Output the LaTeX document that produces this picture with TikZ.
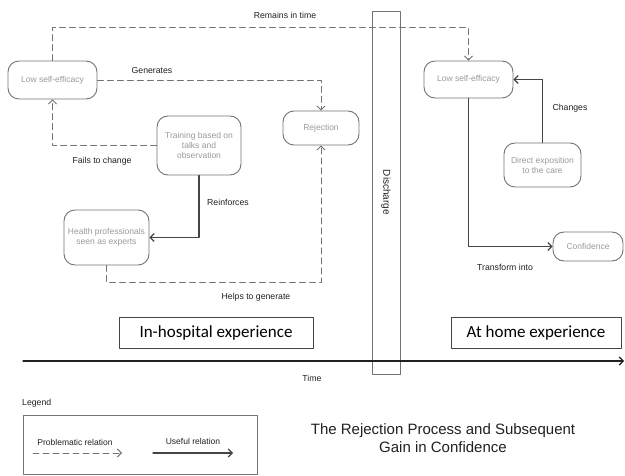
\documentclass[tikz,border=0pt]{standalone}
\usepackage{fontspec}
\setmainfont{Liberation Sans}
\newfontfamily\carlito{Carlito}
\usetikzlibrary{arrows.meta}
\definecolor{zzzzzz}{rgb}{0.6,0.6,0.6}
\definecolor{wwwwww}{rgb}{0.45,0.45,0.45}
\definecolor{uuuuuu}{rgb}{0.27,0.27,0.27}
\definecolor{sqsqsq}{rgb}{0.13,0.13,0.13}
\tikzset{
  state/.style={draw=wwwwww, line width=0.9pt, rounded corners=11pt, text=zzzzzz, align=center, inner sep=1pt, font=\fontsize{8.5}{10}\selectfont},
  problem/.style={draw=wwwwww, line width=0.9pt, dash pattern=on 6pt off 4pt, ->},
  useful/.style={draw=uuuuuu, line width=1.1pt, ->},
  lbl/.style={text=sqsqsq, font=\fontsize{8.7}{10}\selectfont},
  phase/.style={draw=uuuuuu, line width=0.8pt, minimum height=31pt, font=\carlito\fontsize{17}{19}\selectfont}
}

\begin{document}
\begin{tikzpicture}[line cap=round,line join=round,>={Straight Barb[length=4pt,width=8pt]},x=1pt,y=1pt]
\useasboundingbox (0,0) rectangle (625,-476);
% nodes
\node[state, minimum width=89pt, minimum height=38pt] (lowL) at (52.5,-80) {Low self-efficacy};
\node[state, minimum width=76pt, minimum height=34pt] (rej) at (321,-128) {Rejection};
\node[state, minimum width=84pt, minimum height=59pt] (train) at (199,-145.5) {Training based on\\talks and\\observation};
\node[state, minimum width=85pt, minimum height=55pt] (health) at (106.5,-237.5) {Health professionals\\seen as experts};
\node[state, minimum width=89pt, minimum height=37pt] (lowR) at (468.5,-79.5) {Low self-efficacy};
\node[state, minimum width=77pt, minimum height=44pt] (direct) at (542.5,-165) {Direct exposition\\to the care};
\node[state, minimum width=70pt, minimum height=29pt] (conf) at (588,-246.5) {Confidence};
\node[draw=wwwwww, line width=0.8pt, rotate=-90, minimum width=363pt, minimum height=28pt, text=sqsqsq, font=\fontsize{10}{11}\selectfont] (discharge) at (386,-192.5) {Discharge};
\node[phase, minimum width=194pt] (inhosp) at (216,-333) {In-hospital experience};
\node[phase, minimum width=170pt] (athome) at (536,-333) {At home experience};
% connectors
\draw[problem] (lowL.north) -- ++(0,33) -| (lowR.north);
\draw[problem] (lowL.east) -| (rej.north);
\draw[problem] (train.west) -| (lowL.south);
\draw[useful] (train.south) |- (health.east);
\draw[problem] (health.south) -- ++(0,-17) -| (rej.south);
\draw[useful] (lowR.south) |- (conf.west);
\draw[useful] (direct.north) |- (lowR.east);
% labels
\node[lbl] (remains) at (285,-15) {Remains in time};
\node[lbl] (generates) at (152,-71) {Generates};
\node[lbl] (fails) at (102,-161) {Fails to change};
\node[lbl] (reinforces) at (228,-202) {Reinforces};
\node[lbl] (helps) at (256,-297) {Helps to generate};
\node[lbl] (changes) at (570,-108) {Changes};
\node[lbl] (transform) at (505,-267) {Transform into};
% time axis
\coordinate (t0) at (23,-361);
\coordinate (t1) at (624,-361);
\draw[line width=1.1pt, draw=sqsqsq, ->] (t0) -- (t1);
\node[lbl] (time) at (312,-378) {Time};
% legend
\node[lbl, anchor=west, inner sep=0pt] (legend) at (22,-403) {Legend};
\node[draw=wwwwww, line width=0.8pt, minimum width=234pt, minimum height=59pt] (legbox) at (140,-444.5) {};
\coordinate (p0) at (33,-453);
\coordinate (p1) at (122,-453);
\coordinate (u0) at (153,-453);
\coordinate (u1) at (233,-453);
\draw[problem] (p0) -- (p1);
\draw[useful] (u0) -- (u1);
\node[lbl, font=\fontsize{8.5}{10}\selectfont] (problabel) at (75,-442) {Problematic relation};
\node[lbl, font=\fontsize{8.5}{10}\selectfont] (usefullabel) at (193,-441) {Useful relation};
% title
\node[text=sqsqsq, align=center, font=\fontsize{15}{18}\selectfont] (title) at (443,-438) {The Rejection Process and Subsequent\\Gain in Confidence};
\end{tikzpicture}
\end{document}
